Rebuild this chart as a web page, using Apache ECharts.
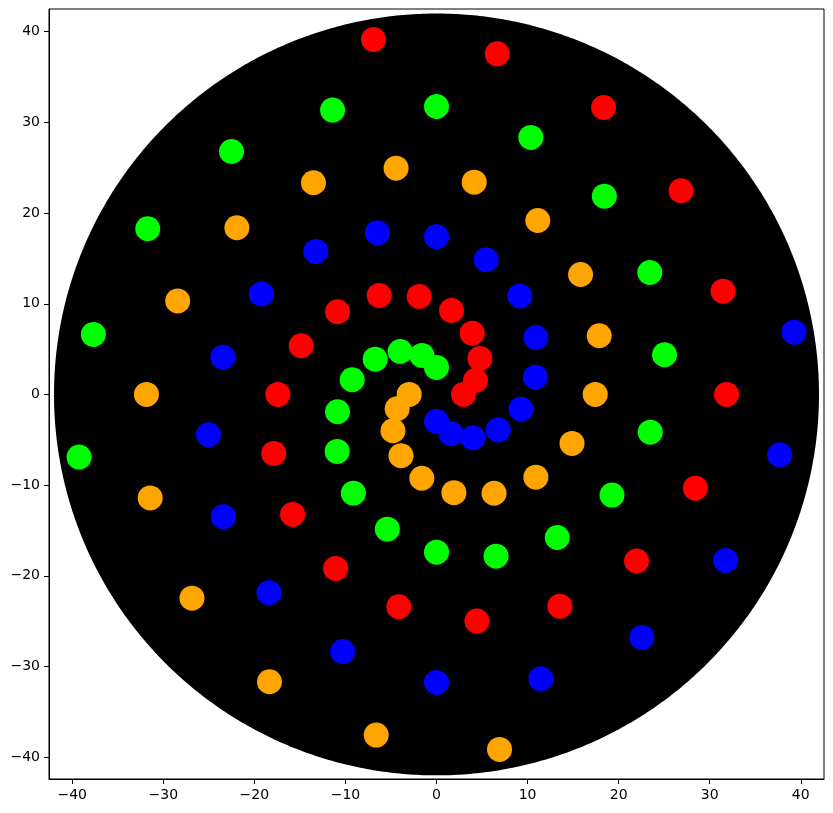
<!DOCTYPE html>
<html><head><meta charset="utf-8">
<script src="https://cdn.jsdelivr.net/npm/echarts@6/dist/echarts.min.js"></script>
<style>html,body{margin:0;padding:0;background:#fff}#c{width:833px;height:813px}</style>
</head><body><div id="c"></div>
<script>
// ---- data, listed from the centre outwards ----
const redPoints = [
  [2.97,0.0],[4.28,1.54],[4.77,3.97],[3.92,6.76],[1.65,9.26],[-1.90,10.80],[-6.29,10.92],[-10.87,9.12],
  [-14.86,5.37],[-17.42,0.0],[-17.87,-6.50],[-15.80,-13.23],[-11.07,-19.18],[-4.14,-23.41],[4.44,-24.99],[13.55,-23.34],
  [21.97,-18.36],[28.43,-10.33],[31.85,0.0],[31.46,11.39],[26.85,22.46],[18.35,31.64],[6.67,37.56],[-6.92,39.14]
];
const greenPoints = [
  [0.0,2.98],[-1.60,4.30],[-3.99,4.74],[-6.73,3.89],[-9.26,1.62],[-10.87,-1.91],[-10.91,-6.28],[-9.13,-10.88],
  [-5.40,-14.85],[0.0,-17.39],[6.54,-17.83],[13.26,-15.77],[19.27,-11.10],[23.47,-4.16],[25.04,4.38],[23.42,13.45],
  [18.43,21.86],[10.36,28.34],[0.0,31.75],[-11.41,31.35],[-22.51,26.79],[-31.71,18.27],[-37.68,6.62],[-39.25,-6.91]
];
const bluePoints = [
  [0.0,-2.98],[1.61,-4.33],[4.00,-4.77],[6.78,-3.91],[9.27,-1.62],[10.87,1.91],[10.92,6.28],[9.15,10.86],
  [5.45,14.85],[0.0,17.39],[-6.49,17.83],[-13.26,15.77],[-19.24,11.08],[-23.46,4.11],[-25.04,-4.43],[-23.41,-13.48],
  [-18.39,-21.86],[-10.31,-28.34],[0.0,-31.75],[11.46,-31.35],[22.55,-26.79],[31.74,-18.30],[37.68,-6.65],[39.26,6.87]
];
const orangePoints = [
  [-3.00,0.0],[-4.32,-1.58],[-4.78,-4.00],[-3.90,-6.75],[-1.61,-9.24],[1.91,-10.83],[6.32,-10.89],[10.91,-9.12],
  [14.88,-5.40],[17.43,0.0],[17.87,6.47],[15.82,13.23],[11.12,19.18],[4.14,23.41],[-4.44,24.95],[-13.51,23.34],
  [-21.92,18.38],[-28.42,10.31],[-31.85,0.0],[-31.44,-11.41],[-26.85,-22.46],[-18.34,-31.68],[-6.62,-37.56],[6.92,-39.14]
];
const discCentre = [0, 0];
const discRadius = 42;
const tickValues = [-40,-30,-20,-10,0,10,20,30,40];

// ---- chart ----
const chart = echarts.init(document.getElementById('c'), null, {renderer:'canvas'});
const fmt = v => String(v).replace('-', '\u2212');
const axisCommon = {
  type: 'value',
  axisLine: {show: true, onZero: false, lineStyle: {color: '#000', width: 1}},
  axisTick: {show: true, length: 5, customValues: tickValues, lineStyle: {color: '#000', width: 1}},
  axisLabel: {customValues: tickValues, formatter: fmt, color: '#000', fontSize: 14,
              fontFamily: 'DejaVu Sans', margin: 9},
  splitLine: {show: false}
};
function scatter(name, pts, color) {
  return {
    type: 'scatter', name: name, data: pts.slice().reverse(),
    symbol: 'circle', symbolSize: 25,
    itemStyle: {color: color, opacity: 1},
    emphasis: {disabled: true}, z: 3
  };
}
chart.setOption({
  animation: false,
  backgroundColor: '#fff',
  grid: {left: 49, top: 9, width: 775, height: 770, show: true, borderColor: '#000', borderWidth: 1,
         backgroundColor: 'transparent'},
  xAxis: Object.assign({}, axisCommon, {min: -42.55, max: 42.55}),
  yAxis: Object.assign({}, axisCommon, {min: -42.4, max: 42.5}),
  series: [
    {
      type: 'custom', z: 1, silent: true,
      data: [[discCentre[0], discCentre[1], discRadius]],
      renderItem: function (params, api) {
        const cx = api.value(0), cy = api.value(1), r = api.value(2);
        const pts = [];
        for (let i = 0; i < 720; i++) {
          const t = i / 720 * Math.PI * 2;
          pts.push(api.coord([cx + r * Math.cos(t), cy + r * Math.sin(t)]));
        }
        return {type: 'polygon', shape: {points: pts}, style: {fill: '#000', stroke: null}};
      }
    },
    scatter('red', redPoints, '#ff0000'),
    scatter('green', greenPoints, '#00ff00'),
    scatter('blue', bluePoints, '#0000ff'),
    scatter('orange', orangePoints, '#ffa500')
  ]
});
</script></body></html>
